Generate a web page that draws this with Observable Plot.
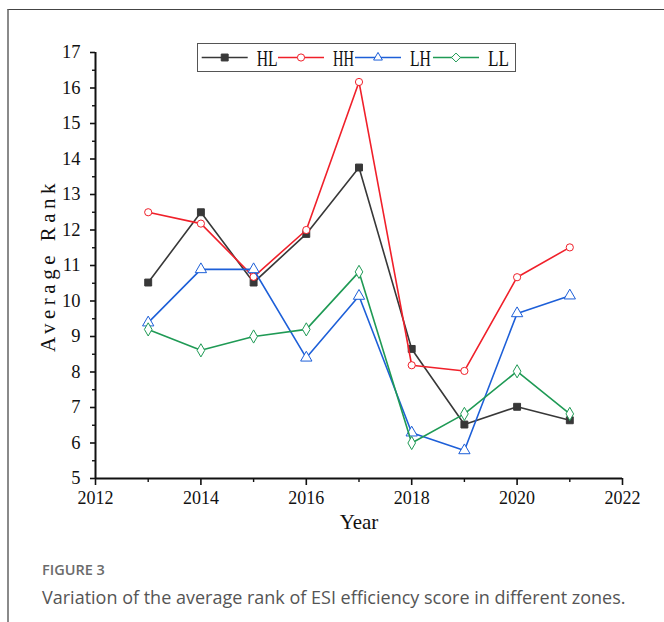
<!DOCTYPE html>
<html>
<head>
<meta charset="utf-8">
<script src="https://cdn.jsdelivr.net/npm/d3@7"></script>
<script src="https://cdn.jsdelivr.net/npm/@observablehq/plot@0.6"></script>
<style>
  html, body { margin: 0; padding: 0; background: #fff; }
  #wrap { position: relative; width: 664px; height: 622px; overflow: hidden; background: #fff; }
  #frame { position: absolute; left: 7px; top: 9px; right: -5px; bottom: -5px;
           border-left: 2px solid #8a8a8a; border-top: 1.3px solid #444; }
  #chart { position: absolute; left: 0; top: 0; }
  #legend { position: absolute; left: 197px; top: 43px; }
  #fig { position: absolute; left: 42px; top: 560px; font-family: "Open Sans", sans-serif;
         font-size: 14.5px; font-weight: 600; color: #6b6b6b; }
  #cap { position: absolute; left: 42px; top: 585px; font-family: "Open Sans", sans-serif;
         font-size: 18px; color: #555; white-space: nowrap; }
</style>
</head>
<body>
<div id="wrap">
  <div id="frame"></div>
  <div id="chart"></div>
  <div id="legend"></div>
  <div id="fig">FIGURE 3</div>
  <div id="cap">Variation of the average rank of ESI efficiency score in different zones.</div>
</div>
<script>
// ---- data ----
const years = [2013, 2014, 2015, 2016, 2017, 2018, 2019, 2020, 2021];
const HL = [10.52, 12.5, 10.52, 11.89, 13.76, 8.65, 6.52, 7.02, 6.64];
const HH = [12.5, 12.18, 10.68, 12.0, 16.17, 8.19, 8.03, 10.67, 11.51];
const LH = [9.39, 10.89, 10.89, 8.4, 10.14, 6.29, 5.79, 9.65, 10.15];
const LL = [9.2, 8.61, 9.0, 9.2, 10.82, 6.0, 6.82, 8.02, 6.82];
const seriesNames = ["HL", "HH", "LH", "LL"];
const xTicks = [2012, 2014, 2016, 2018, 2020, 2022];
const xMinorTicks = [2013, 2015, 2017, 2019, 2021];
const yTicks = [5, 6, 7, 8, 9, 10, 11, 12, 13, 14, 15, 16, 17];
const yMinorTicks = [5.5, 6.5, 7.5, 8.5, 9.5, 10.5, 11.5, 12.5, 13.5, 14.5, 15.5, 16.5];
const xLabel = "Year";
const yLabel = "Average Rank";

const styles = {
  HL: {color: "#383838", symbol: "square", fill: "#383838", r: 3.9},
  HH: {color: "#f0202a", symbol: "circle", fill: "white", r: 3.6},
  LH: {color: "#1d5fd8", symbol: "triangle", fill: "white", r: 4.2},
  LL: {color: "#1f9a55", symbol: "diamond", fill: "white", r: 4.0}
};
const values = {HL, HH, LH, LL};
const tables = Object.fromEntries(seriesNames.map(s => [s, years.map((y, i) => ({year: y, v: values[s][i]}))]));

const serif = "'Liberation Serif', 'DejaVu Serif', serif";

const marks = [];
for (const s of seriesNames) {
  const st = styles[s];
  marks.push(Plot.line(tables[s], {x: "year", y: "v", stroke: st.color, strokeWidth: 1.6}));
  marks.push(Plot.dot(tables[s], {x: "year", y: "v", symbol: () => st.symbol, r: st.r,
    stroke: st.color, fill: st.fill, strokeWidth: 1}));
}

const chart = Plot.plot({
  width: 664,
  height: 545,
  marginLeft: 95,
  marginRight: 42,
  marginTop: 52,
  marginBottom: 67,
  style: {background: "transparent", fontFamily: serif, color: "#111"},
  x: {domain: [2012, 2022], label: null},
  y: {domain: [5, 17], label: null},
  symbol: {type: "identity"},
  marks: [
    Plot.axisX({ticks: xTicks, tickSize: 7, tickPadding: 6, tickFormat: d => String(d),
      fontSize: 18, strokeWidth: 1.6, label: null}),
    Plot.axisX({ticks: xMinorTicks, tickSize: 4, tickFormat: () => "", strokeWidth: 1.4, label: null}),
    Plot.axisY({ticks: yTicks, tickSize: 5, tickPadding: 10, tickFormat: d => String(d),
      fontSize: 18.5, strokeWidth: 1.6, label: null}),
    Plot.axisY({ticks: yMinorTicks, tickSize: 3, tickFormat: () => "", strokeWidth: 1.4, label: null}),
    Plot.ruleX([2012], {stroke: "#111", strokeWidth: 2}),
    Plot.ruleY([5], {stroke: "#111", strokeWidth: 2}),
    Plot.text([xLabel], {frameAnchor: "bottom", dy: 50, text: d => d, fontSize: 21, fontFamily: serif, fill: "#111"}),
    Plot.text([yLabel], {frameAnchor: "left", textAnchor: "middle", dx: -47, rotate: -90, text: d => d,
      fontSize: 21, fontFamily: serif, fill: "#111"}),
    ...marks
  ]
});
document.getElementById("chart").appendChild(chart);
d3.select(chart).selectAll("text").filter(function() { return this.textContent === yLabel; })
  .attr("letter-spacing", "4.5px").style("white-space", "pre");

// ---- legend ----
const lg = d3.select("#legend").append("svg").attr("width", 320).attr("height", 30);
lg.append("rect").attr("x", 0.5).attr("y", 0.5).attr("width", 318).attr("height", 28)
  .attr("fill", "white").attr("stroke", "#555").attr("stroke-width", 1);
const lineStarts = [4.7, 81, 158, 236];
const symMap = {square: d3.symbolSquare, circle: d3.symbolCircle, triangle: d3.symbolTriangle2, diamond: d3.symbolDiamond2};
seriesNames.forEach((s, i) => {
  const st = styles[s];
  const x0 = lineStarts[i], cy = 14.5;
  lg.append("line").attr("x1", x0).attr("x2", x0 + 46).attr("y1", cy).attr("y2", cy)
    .attr("stroke", st.color).attr("stroke-width", 1.6);
  lg.append("path").attr("d", d3.symbol(symMap[st.symbol], Math.PI * st.r * st.r)())
    .attr("transform", `translate(${x0 + 23},${cy})`)
    .attr("fill", st.fill).attr("stroke", st.color).attr("stroke-width", 1);
  lg.append("text").attr("x", x0 + 55).attr("y", cy).attr("dy", "0.36em")
    .attr("font-family", serif).attr("font-size", 23).attr("fill", "#111")
    .attr("textLength", 21).attr("lengthAdjust", "spacingAndGlyphs").text(s);
});
</script>
</body>
</html>
